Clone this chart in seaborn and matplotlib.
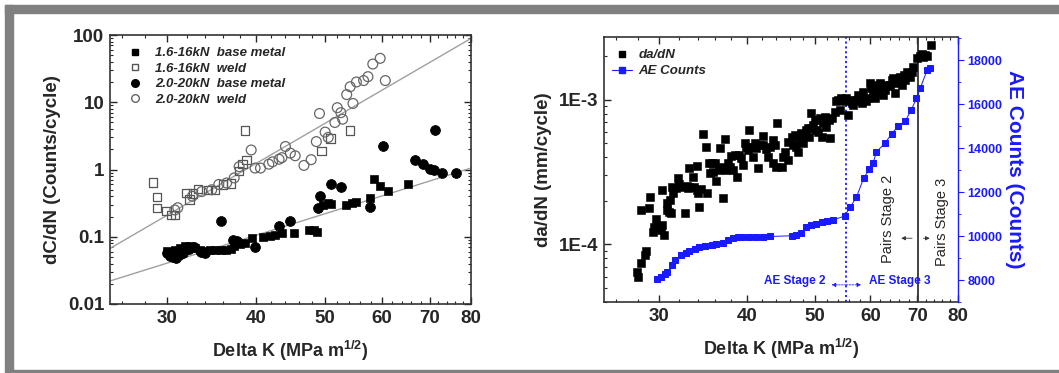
import matplotlib
matplotlib.use("Agg")
import matplotlib.pyplot as plt
from matplotlib.ticker import FixedLocator, FuncFormatter, NullFormatter, MultipleLocator, LogLocator
from matplotlib.lines import Line2D
from matplotlib.patches import Rectangle
import numpy as np
import seaborn as sns

# ---------------- left panel: dC/dN vs Delta K ----------------
base16_x = [30.0, 30.4, 30.8, 31.3, 31.8, 32.3, 32.9, 33.4, 34.0, 34.5, 35.1, 35.7, 36.3, 36.9,
            37.3, 38.0, 38.6, 39.5, 40.9, 41.9, 42.6, 43.5, 45.2, 47.5, 48.3, 48.7, 49.6, 50.4,
            50.9, 53.4, 54.6, 55.3, 57.7, 58.6, 59.7, 61.2, 65.2]
base16_y = [0.062, 0.058, 0.063, 0.068, 0.072, 0.074, 0.068, 0.063, 0.062, 0.063, 0.064, 0.064,
            0.064, 0.066, 0.072, 0.078, 0.082, 0.095, 0.100, 0.104, 0.108, 0.115, 0.115, 0.126,
            0.128, 0.117, 0.297, 0.314, 0.310, 0.300, 0.314, 0.333, 0.373, 0.714, 0.575, 0.479, 0.608]

weld16_x = [28.7, 29.1, 29.1, 30.0, 30.4, 30.8, 32.0, 32.3, 32.7, 33.2, 34.3, 35.1, 36.0, 36.9,
            37.9, 38.3, 38.8, 38.6, 49.4, 50.9, 54.2]
weld16_y = [0.64, 0.39, 0.27, 0.24, 0.21, 0.21, 0.45, 0.36, 0.44, 0.51, 0.50, 0.50, 0.60, 0.62,
            0.95, 1.20, 1.40, 3.80, 1.90, 2.90, 3.80]

base20_x = [30.0, 30.3, 30.6, 30.9, 31.2, 31.6, 32.2, 32.8, 33.5, 34.0, 35.7, 37.2, 37.6, 39.9,
            43.1, 44.6, 48.8, 49.2, 50.9, 52.7, 57.7, 60.3, 66.9, 68.5, 70.2, 71.1, 72.8, 76.2, 71.3]
base20_y = [0.057, 0.052, 0.050, 0.048, 0.053, 0.058, 0.065, 0.070, 0.060, 0.058, 0.170, 0.090,
            0.085, 0.071, 0.145, 0.170, 0.265, 0.410, 0.610, 0.540, 0.280, 2.26, 1.38, 1.21, 1.02,
            0.98, 0.90, 0.90, 3.87]

weld20_x = [30.8, 31.1, 32.6, 33.6, 34.7, 35.5, 36.4, 37.3, 37.9, 39.4, 39.9, 40.6, 41.7, 42.2,
            43.1, 43.5, 44.0, 44.7, 45.4, 46.7, 47.8, 48.6, 49.1, 50.0, 50.5, 51.6, 52.0, 52.6,
            52.9, 53.6, 54.2, 54.7, 55.3, 56.6, 57.4, 58.3, 59.7, 60.7]
weld20_y = [0.25, 0.27, 0.40, 0.47, 0.50, 0.60, 0.63, 0.75, 1.10, 1.95, 1.05, 1.05, 1.20, 1.30,
            1.42, 1.50, 2.20, 1.75, 1.60, 1.15, 1.40, 2.60, 6.80, 3.60, 3.00, 5.00, 8.30, 7.00,
            5.60, 13.0, 17.0, 9.60, 20.0, 21.0, 24.0, 37.0, 45.0, 21.0]

fit_x = [25, 80]
fit_weld_y = [0.067, 89]
fit_base_y = [0.022, 1.05]

legend_left = ["1.6-16kN  base metal", "1.6-16kN  weld", "2.0-20kN  base metal", "2.0-20kN  weld"]

# ---------------- right panel: da/dN and AE counts ----------------
dadn_x = [27.9, 28.0, 28.2, 28.6, 28.7, 28.2, 29.0, 29.1, 29.4, 29.5, 29.7, 29.9, 30.2, 30.4,
          30.1, 30.2, 30.7, 30.8, 31.0, 31.2, 31.1, 31.3, 31.4, 31.7, 31.9, 32.0, 32.3, 32.6,
          32.8, 32.9, 33.1, 33.1, 33.5, 33.6, 33.9, 33.9, 34.0, 34.2, 34.4, 34.6, 34.9, 35.1,
          35.3, 35.4, 35.6, 35.8, 36.0, 36.1, 36.5, 36.6, 36.9, 37.0, 37.2, 37.3, 37.6, 37.8,
          38.0, 38.2, 38.5, 38.7, 38.9, 39.2, 39.5, 39.7, 39.9, 40.1, 40.3, 40.6, 40.8, 41.0,
          41.2, 41.5, 41.7, 42.1, 42.1, 42.6, 42.8, 43.1, 43.5, 43.6, 43.8, 44.0, 44.1,
          44.8, 45.0, 45.3, 45.8, 45.8, 46.3, 46.5, 46.8, 47.0, 47.3, 47.6, 47.8, 48.1, 48.3,
          48.6, 48.9, 49.1, 49.4, 49.4, 49.7, 50.0, 50.2, 50.5, 50.8, 51.1, 51.3, 51.6, 51.9,
          52.4, 52.5, 52.8, 53.4, 53.6, 53.9, 54.2, 54.5, 54.8, 55.1, 55.4, 55.7, 56.1, 56.4,
          56.7, 57.0, 57.3, 57.6, 57.9, 58.3, 58.6, 58.9, 59.2, 59.6, 59.9, 60.2, 60.5, 60.9,
          61.2, 61.6, 61.9, 62.2, 62.6, 62.9, 63.3, 63.6, 64.0, 64.3, 64.7, 65.0, 65.4, 65.8,
          66.1, 66.5, 66.9, 67.2, 67.6, 68.0, 68.4, 68.7, 69.1, 69.9, 70.6, 71.0, 71.4, 71.8,
          72.2, 73.2]
dadn_y = [6.5e-5, 6.0e-5, 7.5e-5, 8.4e-5, 9.0e-5, 1.73e-4, 1.78e-4, 2.14e-4, 1.22e-4, 1.33e-4,
          1.49e-4, 1.33e-4, 1.36e-4, 1.16e-4, 1.26e-4, 2.38e-4, 1.92e-4, 1.73e-4, 1.68e-4, 1.66e-4,
          2.03e-4, 2.51e-4, 2.26e-4, 2.44e-4, 2.90e-4, 2.62e-4, 2.51e-4, 1.66e-4, 2.54e-4, 2.44e-4,
          2.51e-4, 3.40e-4, 2.94e-4, 2.51e-4, 2.38e-4, 3.49e-4, 2.26e-4, 1.82e-4, 2.40e-4, 5.81e-4,
          4.70e-4, 2.26e-4, 3.64e-4, 3.10e-4, 3.64e-4, 3.19e-4, 3.64e-4, 2.75e-4, 3.27e-4, 4.63e-4,
          3.41e-4, 2.08e-4, 5.34e-4, 3.27e-4, 3.64e-4, 3.45e-4, 4.09e-4, 3.27e-4, 4.16e-4, 2.94e-4,
          4.16e-4, 3.94e-4, 3.55e-4, 5.06e-4, 4.75e-4, 4.50e-4, 6.20e-4, 4.75e-4, 4.05e-4, 5.01e-4,
          4.63e-4, 3.36e-4, 4.88e-4, 5.63e-4, 4.88e-4, 4.55e-4, 4.05e-4, 4.75e-4, 5.28e-4, 3.64e-4,
          4.88e-4, 3.45e-4, 6.90e-4,
          3.45e-4, 4.05e-4, 4.38e-4, 5.14e-4, 3.84e-4, 5.57e-4, 4.88e-4, 5.73e-4, 4.75e-4, 4.38e-4,
          5.28e-4, 5.88e-4, 5.01e-4, 5.73e-4, 6.20e-4, 6.37e-4, 5.57e-4, 8.09e-4, 6.37e-4, 6.71e-4,
          7.27e-4, 6.20e-4, 6.04e-4, 7.47e-4, 5.57e-4, 6.90e-4, 7.67e-4, 6.54e-4, 7.27e-4, 5.42e-4,
          7.47e-4, 8.30e-4, 9.74e-4, 1.00e-3, 8.53e-4, 1.03e-3, 1.00e-3, 9.74e-4, 1.03e-3, 7.87e-4,
          1.00e-3, 9.48e-4, 9.23e-4, 9.74e-4, 1.00e-3, 1.08e-3, 1.05e-3, 9.48e-4, 1.14e-3, 1.00e-3,
          9.74e-4, 1.03e-3, 1.30e-3, 1.20e-3, 1.11e-3, 1.03e-3, 1.14e-3, 1.27e-3, 1.30e-3, 1.20e-3,
          1.08e-3, 1.17e-3, 1.24e-3, 1.27e-3, 1.27e-3, 1.38e-3, 1.41e-3, 1.12e-3, 1.30e-3, 1.34e-3,
          1.45e-3, 1.27e-3, 1.49e-3, 1.38e-3, 1.57e-3, 1.53e-3, 1.45e-3, 1.57e-3, 1.70e-3, 1.94e-3,
          2.00e-3, 2.08e-3, 1.98e-3, 2.05e-3, 2.00e-3, 2.40e-3]

ae_x = [29.8, 30.1, 30.5, 30.8, 31.3, 31.6, 32.2, 32.7, 33.1, 33.7, 34.2, 34.8, 35.6, 36.1,
        37.0, 37.6, 38.2, 38.8, 39.4, 40.3, 41.2, 42.1, 43.1, 46.3, 47.0, 47.8, 48.6, 49.4,
        50.1, 51.1, 52.1, 53.1, 55.1, 56.1, 57.3, 58.7, 59.8, 60.5, 61.2, 62.9, 64.3, 65.7,
        67.3, 68.6, 69.8, 70.7, 72.3, 72.9]
ae_y = [8030, 8150, 8270, 8380, 8680, 8910, 9120, 9210, 9320, 9410, 9510, 9560, 9590, 9620,
        9700, 9820, 9920, 9940, 9950, 9970, 9970, 9970, 9980, 10010, 10050, 10120, 10390, 10500,
        10540, 10650, 10680, 10730, 10910, 11300, 11760, 12650, 13030, 13300, 13830, 14210,
        14640, 15000, 15240, 15730, 16260, 16740, 17550, 17650]

ae_stage_k = 55.4
pairs_stage_k = 70.2

BLUE = "#1a1aff"
W, H = 1059, 373

sns.set_style("ticks")
plt.rcParams["font.family"] = ["Liberation Sans", "DejaVu Sans"]
plt.rcParams.update({
    "mathtext.fontset": "custom",
    "mathtext.rm": "Liberation Sans:bold",
    "mathtext.it": "Liberation Sans:bold:italic",
    "mathtext.bf": "Liberation Sans:bold",
    "axes.edgecolor": "#333333",
    "axes.linewidth": 1.2,
})

fig = plt.figure(figsize=(W / 100, H / 100), dpi=100)
fig.patch.set_facecolor("white")

# grey picture frame
for (x0, y0, w, h) in [(5, 5, W - 5, 8), (5, 5, 8, 365), (5, 370, W - 5, 3)]:
    fig.patches.append(Rectangle((x0 / W, 1 - (y0 + h) / H), w / W, h / H,
                                 transform=fig.transFigure, color="#808080", zorder=0))

ax1 = fig.add_axes([110 / W, 1 - 304 / H, (471 - 110) / W, (304 - 35) / H])
ax2 = fig.add_axes([604 / W, 1 - 302 / H, (958 - 604) / W, (302 - 37) / H])

k_ticks = [30, 40, 50, 60, 70, 80]
k_minor = [k for k in range(26, 80, 2) if k % 10 != 0]


def style_x(ax):
    ax.set_xscale("log")
    ax.set_xlim(25, 80)
    ax.xaxis.set_major_locator(FixedLocator(k_ticks))
    ax.xaxis.set_major_formatter(FuncFormatter(lambda v, p: "%d" % v))
    ax.xaxis.set_minor_locator(FixedLocator(k_minor))
    ax.xaxis.set_minor_formatter(NullFormatter())
    ax.set_xlabel("Delta K (MPa m$^{1/2}$)", fontsize=13, fontweight="bold", labelpad=9)


# ---- left panel ----
ax1.plot(fit_x, fit_weld_y, color="#a0a0a0", lw=1.0, zorder=1)
ax1.plot(fit_x, fit_base_y, color="#a0a0a0", lw=1.0, zorder=1)
sns.scatterplot(x=base16_x, y=base16_y, marker="s", s=34, color="black", edgecolor="black", ax=ax1, zorder=3)
sns.scatterplot(x=weld16_x, y=weld16_y, marker="s", s=36, color="none", edgecolor="#555555",
                linewidth=0.9, ax=ax1, zorder=3)
sns.scatterplot(x=base20_x, y=base20_y, marker="o", s=50, color="black", edgecolor="black", ax=ax1, zorder=3)
sns.scatterplot(x=weld20_x, y=weld20_y, marker="o", s=50, color="none", edgecolor="#666666",
                linewidth=0.9, ax=ax1, zorder=3)

ax1.set_yscale("log")
ax1.set_ylim(0.01, 100)
ax1.yaxis.set_major_locator(LogLocator(base=10, numticks=10))
ax1.yaxis.set_major_formatter(FuncFormatter(lambda v, p: "%g" % v))
ax1.yaxis.set_minor_locator(LogLocator(base=10, subs=np.arange(2, 10), numticks=20))
ax1.yaxis.set_minor_formatter(NullFormatter())
style_x(ax1)
ax1.set_ylabel("dC/dN (Counts/cycle)", fontsize=13.5, fontweight="bold", labelpad=5)
ax1.tick_params(which="both", direction="in", top=True, right=True, labelsize=13.5, pad=4)
ax1.tick_params(which="major", length=5, width=1)
ax1.tick_params(which="minor", length=2.5, width=0.8)
for lab in ax1.get_xticklabels() + ax1.get_yticklabels():
    lab.set_fontweight("bold")

h_left = [
    Line2D([], [], marker="s", ls="none", color="black", markersize=5),
    Line2D([], [], marker="s", ls="none", markerfacecolor="none", markeredgecolor="#555555", markersize=5),
    Line2D([], [], marker="o", ls="none", color="black", markersize=5.5),
    Line2D([], [], marker="o", ls="none", markerfacecolor="none", markeredgecolor="#666666", markersize=5.5),
]
ax1.legend(h_left, legend_left, loc="upper left", bbox_to_anchor=(0.03, 0.985), frameon=False,
           prop={"size": 9.5, "style": "italic", "weight": "bold"}, handlelength=1.0,
           handletextpad=1.0, labelspacing=0.25, borderaxespad=0.2)

# ---- right panel ----
ax2.axvline(ae_stage_k, color=BLUE, lw=1.3, ls=(0, (1.2, 1.5)), zorder=2)
ax2.axvline(pairs_stage_k, color="#333333", lw=1.3, zorder=2)
sns.scatterplot(x=dadn_x, y=dadn_y, marker="s", s=26, color="black", edgecolor="black", ax=ax2, zorder=3)
ax2.set_yscale("log")
ax2.set_ylim(4.0e-5, 2.72e-3)
ax2.yaxis.set_major_locator(LogLocator(base=10, numticks=10))
ax2.yaxis.set_major_formatter(FuncFormatter(lambda v, p: "1E%d" % round(np.log10(v))))
ax2.yaxis.set_minor_locator(LogLocator(base=10, subs=np.arange(2, 10), numticks=20))
ax2.yaxis.set_minor_formatter(NullFormatter())
style_x(ax2)
ax2.set_ylabel("da/dN (mm/cycle)", fontsize=13.5, fontweight="bold", labelpad=5)
ax2.tick_params(which="both", direction="in", top=True, right=False, labelsize=13.5, pad=4)
ax2.tick_params(which="major", length=5, width=1)
ax2.tick_params(which="minor", length=2.5, width=0.8)
ax2.spines["right"].set_visible(False)
for lab in ax2.get_xticklabels() + ax2.get_yticklabels():
    lab.set_fontweight("bold")

ax3 = ax2.twinx()
sns.lineplot(x=ae_x, y=ae_y, color=BLUE, lw=0.7, marker="s", markersize=4.5, markeredgecolor=BLUE,
             alpha=1, ax=ax3, zorder=3)
ax3.set_ylim(7000, 19050)
ax3.yaxis.set_major_locator(MultipleLocator(2000))
ax3.yaxis.set_minor_locator(MultipleLocator(1000))
ax3.tick_params(axis="y", which="both", direction="out", colors=BLUE, labelsize=9, pad=3)
ax3.tick_params(axis="y", which="major", length=4)
ax3.tick_params(axis="y", which="minor", length=2)
for s in ["left", "top", "bottom"]:
    ax3.spines[s].set_visible(False)
ax3.spines["right"].set_color(BLUE)
ax3.spines["right"].set_linewidth(1.0)
for lab in ax3.get_yticklabels():
    lab.set_fontweight("bold")
ax3.set_ylabel("AE Counts (Counts)", fontsize=15, fontweight="bold", color=BLUE, rotation=270, labelpad=15)

# stage annotations
arrow_b = dict(arrowstyle="-|>", color=BLUE, lw=0.6, ls=(0, (2, 1.5)), mutation_scale=6, shrinkA=0, shrinkB=0)
ax3.annotate("", xy=(52.8, 7780), xytext=(ae_stage_k, 7780), arrowprops=arrow_b)
ax3.annotate("", xy=(58.2, 7780), xytext=(ae_stage_k, 7780), arrowprops=arrow_b)
ax3.text(51.7, 7960, "AE Stage 2", ha="right", va="center", color=BLUE, fontsize=8.5, fontweight="bold")
ax3.text(59.8, 7960, "AE Stage 3", ha="left", va="center", color=BLUE, fontsize=8.5, fontweight="bold")

arrow_k = dict(arrowstyle="-|>", color="#333333", lw=0.6, mutation_scale=6, shrinkA=0, shrinkB=0)
ax3.annotate("", xy=(66.4, 9900), xytext=(68.8, 9900), arrowprops=arrow_k)
ax3.annotate("", xy=(72.9, 9900), xytext=(71.4, 9900), arrowprops=arrow_k)
ax3.text(63.6, 10800, "Pairs Stage 2", rotation=90, ha="center", va="center", fontsize=10.5)
ax3.text(75.8, 10650, "Pairs Stage 3", rotation=90, ha="center", va="center", fontsize=10.5)

h_right = [
    Line2D([], [], marker="s", ls="none", color="black", markersize=4),
    Line2D([], [], marker="s", ls="-", lw=0.8, color=BLUE, markersize=4),
]
ax2.legend(h_right, ["da/dN", "AE Counts"], loc="upper left", bbox_to_anchor=(0.0, 0.985), frameon=False,
           prop={"size": 9.5, "style": "italic", "weight": "bold"}, handlelength=1.5,
           handletextpad=0.5, labelspacing=0.3, borderaxespad=0.2)

fig.savefig("out.png", dpi=100)
